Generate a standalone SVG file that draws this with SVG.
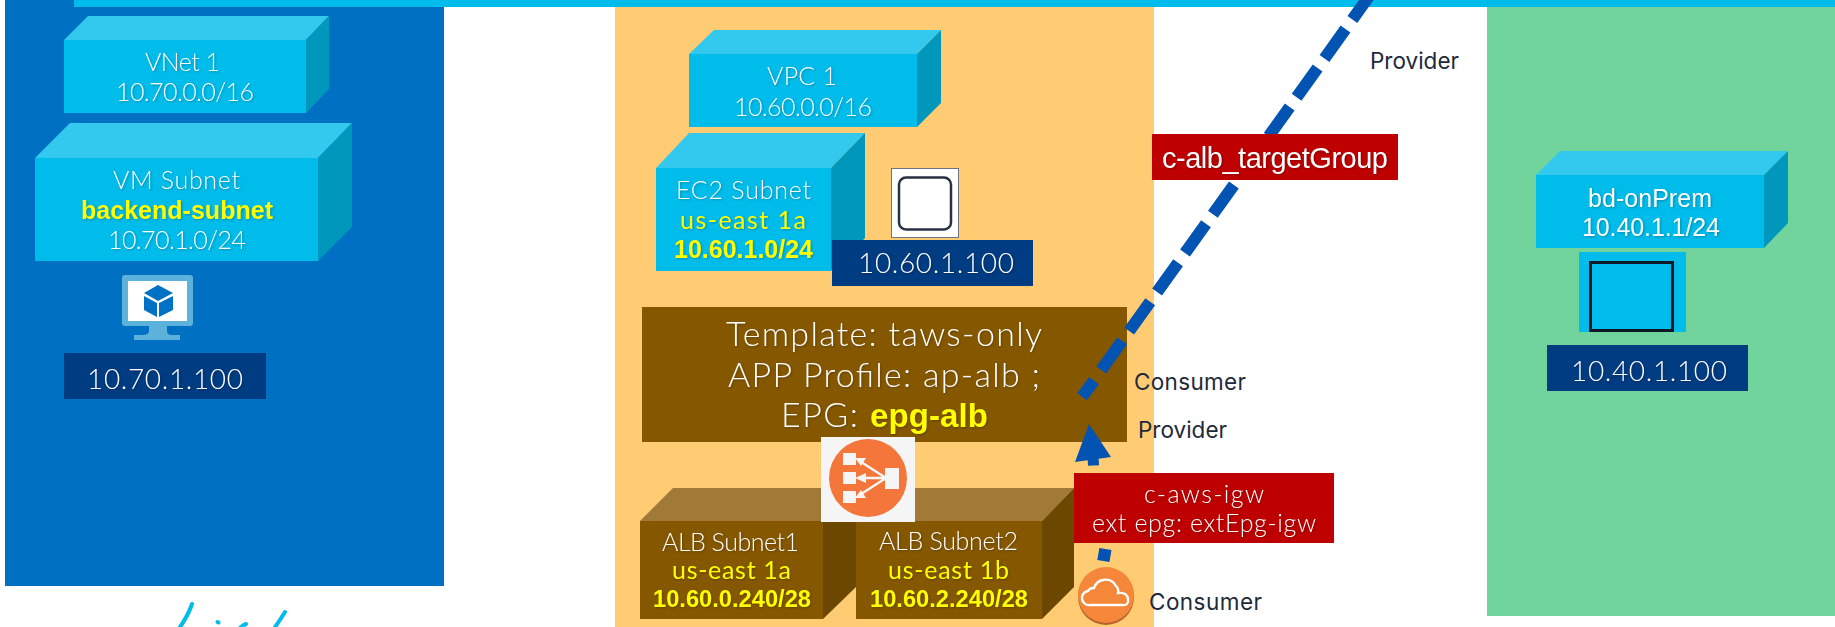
<svg xmlns="http://www.w3.org/2000/svg" width="1835" height="627" viewBox="0 0 1835 627">
<style>
text{font-family:"Lato","Liberation Sans",sans-serif;font-weight:300;fill:#fff;font-size:25px;filter:drop-shadow(1px 1px 1px rgba(0,0,0,.25))}
.a{font-family:"Liberation Sans",Arial,sans-serif;font-weight:400}
.y{font-family:"Liberation Sans",Arial,sans-serif;font-weight:700;fill:#ff0}
.yl{fill:#ff0;font-weight:400}
.d{font-family:"Inter","Liberation Sans",sans-serif;fill:#1e2a3a;font-weight:400;font-size:22.500px;filter:none}
.ip{font-size:28px}
.t{font-size:34px}
.f{fill:#00bceb}.tc{fill:#33c9ef}.sc{fill:#0097bc}
.bf{fill:#855800}.bt{fill:#a07a36}.bs{fill:#6b4700}
.lb{fill:#003c82}.r{fill:#be0000}
.dash{fill:none;stroke:#0353b2;stroke-width:12}
</style>
<g id="panels">
<rect x="5" y="0" width="439" height="586" fill="#0070c3"/>
<rect x="615" y="0" width="539" height="627" fill="#ffcc73"/>
<rect x="1487" y="0" width="348" height="616" fill="#70d49c"/>
<rect x="74" y="0" width="1761" height="7" fill="#00bceb"/>
</g>
<g id="vnet1">
<polygon class="tc" points="64,40 88,16 329,16 306,40"/><polygon class="sc" points="306,40 329,16 329,89 306,113"/><rect class="f" x="64" y="40" width="242" height="73"/>
<text x="145" y="71" textLength="75">VNet 1</text><text x="116" y="101" textLength="138">10.70.0.0/16</text>
</g>
<g id="vm-subnet">
<polygon class="tc" points="35,158 70,123 352,123 318,158"/><polygon class="sc" points="318,158 352,123 352,227 318,261"/><rect class="f" x="35" y="158" width="283" height="103"/>
<text x="113" y="189" textLength="127">VM Subnet</text><text class="y" x="81" y="219" textLength="192">backend-subnet</text><text x="108" y="249" textLength="138">10.70.1.0/24</text>
</g>
<g id="vm-icon">
<path fill="#5cb2db" d="M125 275h65a3 3 0 0 1 3 3v45a3 3 0 0 1-3 3h-23v5q0 4 5 4h8v5h-46v-5h8q7 0 7-4v-5h-24a3 3 0 0 1-3-3v-45a3 3 0 0 1 3-3z"/>
<rect x="128" y="281" width="59" height="40" fill="#fff"/>
<path fill="#0072c6" d="M158 285l15 8-15 8-14-8zM144 296l13 7v14l-13-7zM173 296v14l-14 7v-14z"/>
</g>
<g id="ip-vm"><rect class="lb" x="64" y="353" width="202" height="46"/><text class="ip" x="87" y="389" textLength="156">10.70.1.100</text></g>
<g id="vpc1">
<polygon class="tc" points="689,54 714,30 941,30 917,54"/><polygon class="sc" points="917,54 941,30 941,103 917,127"/><rect class="f" x="689" y="54" width="228" height="73"/>
<text x="767" y="85" textLength="70">VPC 1</text><text x="734" y="116" textLength="138">10.60.0.0/16</text>
</g>
<g id="ec2-subnet">
<polygon class="tc" points="656,168 689,133 865,133 831,168"/><polygon class="sc" points="831,168 865,133 865,238 831,271"/><rect class="f" x="656" y="168" width="175" height="103"/>
<text x="676" y="199" textLength="135">EC2 Subnet</text><text class="yl" x="680" y="229" textLength="126">us-east 1a</text><text class="y" x="674" y="258" textLength="139">10.60.1.0/24</text>
</g>
<g id="ec2-icon">
<rect x="891.500" y="168.500" width="67" height="69" fill="#fff" stroke="#6d7580"/>
<rect x="899" y="177.500" width="52" height="52" rx="7" fill="#fff" stroke="#293242" stroke-width="2.500"/>
</g>
<g id="ip-ec2"><rect class="lb" x="832" y="240" width="201" height="46"/><text class="ip" x="858" y="273" textLength="156">10.60.1.100</text></g>
<g id="template">
<rect class="bf" x="642" y="307" width="485" height="135"/>
<text class="t" x="726" y="346" textLength="316">Template: taws-only</text>
<text class="t" x="728" y="387" textLength="312">APP Profile: ap-alb ;</text>
<text class="t" x="781" y="427"><tspan textLength="77">EPG:</tspan><tspan class="y" x="870" textLength="118" style="font-size:33px">epg-alb</tspan></text>
</g>
<g id="alb-subnet1">
<polygon class="bt" points="640,521 673,488 856,488 823,521"/><polygon class="bs" points="823,521 856,488 856,587 823,619"/><rect class="bf" x="640" y="521" width="183" height="98"/>
<text x="662" y="551" textLength="137">ALB Subnet1</text><text class="yl" x="672" y="579" textLength="119">us-east 1a</text><text class="y" x="653" y="607" textLength="158" style="font-size:23.700px">10.60.0.240/28</text>
</g>
<g id="alb-subnet2">
<polygon class="bt" points="856,521 889,488 1074,488 1042,521"/><polygon class="bs" points="1042,521 1074,488 1074,587 1042,619"/><rect class="bf" x="856" y="521" width="186" height="98"/>
<text x="879" y="550" textLength="139">ALB Subnet2</text><text class="yl" x="888" y="579" textLength="121">us-east 1b</text><text class="y" x="870" y="607" textLength="158" style="font-size:23.700px">10.60.2.240/28</text>
</g>
<g id="alb-icon">
<rect x="821" y="437" width="94" height="85" fill="#f5f5f5"/>
<circle cx="868" cy="478" r="39" fill="#f4763b"/>
<g fill="#f5f5f5"><rect x="843" y="453" width="13" height="12"/><rect x="843" y="472" width="13" height="12"/><rect x="843" y="491" width="13" height="12"/><rect x="885" y="468" width="14" height="21"/>
<polygon points="855,458 866,458 861,466"/><polygon points="855,478 866,473 866,483"/><polygon points="855,498 861,490 866,498"/></g>
<path d="M886 478L858 460M886 478H858M886 478L858 496" stroke="#f5f5f5" stroke-width="2.400" fill="none"/>
</g>
<g id="igw-icon">
<circle cx="1106" cy="597" r="28" fill="#b5602e"/>
<circle cx="1106" cy="595" r="28" fill="#f5873a"/>
<path d="M1090 605a7 7 0 0 1-2-14 6 6 0 0 1 6-3 12 12 0 0 1 22-2q3 3 2 7 9-1 10 6t-6 6z" fill="none" stroke="#fff" stroke-width="2.400"/>
</g>
<g id="ip-onprem-block">
<rect x="1579" y="252" width="107" height="80" fill="#00bceb"/>
<path d="M1590.500 332V262.500H1672.500V332" fill="none" stroke="#0c1a26" stroke-width="3"/>
<path d="M1589 330.500H1674" stroke="#0c1a26" stroke-width="3"/>
</g>
<g id="bd-onprem">
<polygon class="tc" points="1536,175 1560,151 1788,151 1764,175"/><polygon class="sc" points="1764,175 1788,151 1788,223 1764,248"/><rect class="f" x="1536" y="175" width="228" height="73"/>
<text class="a" x="1588" y="207" textLength="124">bd-onPrem</text><text class="a" x="1582" y="236" textLength="138">10.40.1.1/24</text>
</g>
<g id="ip-onprem"><rect class="lb" x="1547" y="345" width="201" height="46"/><text class="ip" x="1571" y="381" textLength="156">10.40.1.100</text></g>
<g id="connectors">
<path class="dash" d="M1082 396.700L1094 380.700M1101.200 370L1122.200 340.700M1129.200 331L1150.200 301.700M1157.100 292L1178.100 262.700M1185 253.100L1206 223.800M1212.900 214.200L1233.900 184.900M1240.800 175.200L1261.800 145.900M1268.700 136.300L1289.700 107M1296.600 97.300L1317.600 68M1324.500 58.400L1345.500 29.100M1352.400 19.400L1373.400 -9.900"/>
<path class="dash" style="stroke-width:12.300" d="M1105.400 549L1103.400 561"/>
<path class="dash" style="stroke-width:11" d="M1093 457L1093.500 465.500"/>
<polygon points="1089,424 1111,457 1075,462" fill="#0353b2"/>
</g>
<g id="c-alb"><rect class="r" x="1152" y="134" width="246" height="46"/><text class="a" x="1162" y="168" textLength="226" style="font-size:29px">c-alb_targetGroup</text></g>
<g id="c-aws"><rect class="r" x="1074" y="473" width="260" height="70"/>
<text x="1144" y="503" textLength="120">c-aws-igw</text><text x="1092" y="532" textLength="224">ext epg: extEpg-igw</text></g>
<g id="labels">
<text class="d" x="1134" y="390" textLength="112">Consumer</text>
<text class="d" x="1138" y="438" textLength="89">Provider</text>
<text class="d" x="1149" y="610" textLength="113">Consumer</text>
<text class="d" x="1370" y="69" textLength="89">Provider</text>
</g>
<g id="scribble" fill="none" stroke="#00bceb" stroke-width="4" stroke-linecap="round">
<path d="M192 604Q188 616 178 630"/><path d="M217.500 622l1 .5"/><path d="M240 628q3-3 6-4"/><path d="M285 612Q280 620 273 630"/>
</g>
</svg>
